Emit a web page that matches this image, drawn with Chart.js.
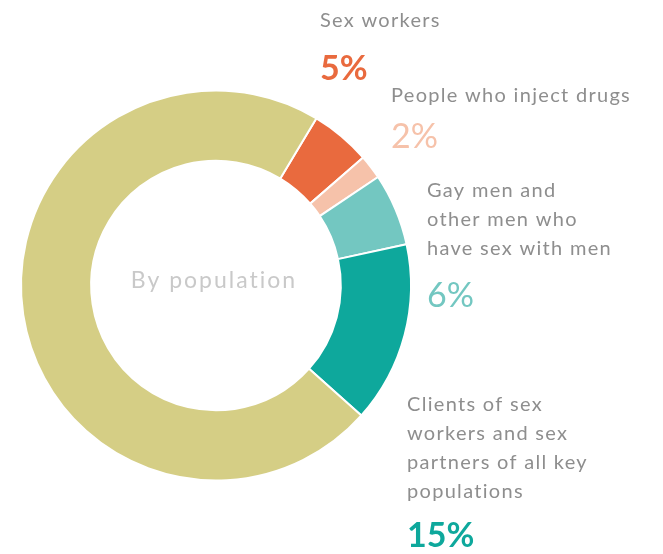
<!DOCTYPE html>
<html>
<head>
<meta charset="utf-8">
<script src="https://cdn.jsdelivr.net/npm/chart.js@4.4.0/dist/chart.umd.min.js"></script>
<style>
  html, body { margin: 0; padding: 0; background: #fff; }
  #wrap { position: relative; width: 663px; height: 554px; }
</style>
</head>
<body>
<div id="wrap"><canvas id="myChart" width="663" height="554"></canvas></div>
<script>
// Доли по группам населения (%)
const categories = [
  'Sex workers',
  'People who inject drugs',
  'Gay men and other men who have sex with men',
  'Clients of sex workers and sex partners of all key populations',
  'Rest of population'
];
const shares = [5, 2, 6, 15, 72];
const shareLabels = ['5%', '2%', '6%', '15%', ''];
const sliceColors = ['#e96a3e', '#f6c2aa', '#73c7c1', '#0ea89c', '#d5ce85'];

// Подписи справа от кольца: строки текста и позиция (левый край, базовая линия)
const labelLines = [
  ['Sex workers'],
  ['People who inject drugs'],
  ['Gay men and', 'other men who', 'have sex with men'],
  ['Clients of sex', 'workers and sex', 'partners of all key', 'populations']
];
const labelPos = [
  { x: 320, y: 27, pctY: 80, bold: true },
  { x: 391, y: 102, pctY: 148, bold: false },
  { x: 427, y: 197, pctY: 307, bold: false },
  { x: 407, y: 411, pctY: 547, bold: true }
];

const labelsPlugin = {
  id: 'sideLabels',
  afterDraw(chart) {
    const ctx = chart.ctx;
    const arc = chart.getDatasetMeta(0).data[0];
    ctx.save();
    // Текст в центре
    ctx.fillStyle = '#c9c9c9';
    ctx.font = '23px Lato';
    ctx.letterSpacing = '2px';
    ctx.textAlign = 'center';
    ctx.textBaseline = 'alphabetic';
    ctx.fillText('By population', arc.x - 2, 288);

    ctx.textAlign = 'left';
    labelLines.forEach((lines, i) => {
      const p = labelPos[i];
      ctx.fillStyle = '#8e8e8e';
      ctx.font = '20px Lato';
      ctx.letterSpacing = '1.3px';
      lines.forEach((line, j) => {
        ctx.fillText(line, p.x, p.y + j * 29);
      });
      ctx.fillStyle = sliceColors[i];
      ctx.font = (p.bold ? 'bold ' : '') + '34px Lato';
      ctx.letterSpacing = '0px';
      ctx.fillText(shareLabels[i], p.x, p.pctY);
    });
    ctx.restore();
  }
};

const canvas = document.getElementById('myChart');
const context = canvas.getContext('2d');

new Chart(context, {
  type: 'doughnut',
  data: {
    labels: categories,
    datasets: [{
      data: shares,
      backgroundColor: sliceColors,
      borderColor: '#ffffff',
      borderWidth: 2
    }]
  },
  options: {
    responsive: false,
    animation: false,
    rotation: 31,
    cutout: '64%',
    layout: {
      padding: { left: 20, right: 251, top: 89, bottom: 72 }
    },
    plugins: {
      legend: { display: false },
      tooltip: { enabled: false }
    }
  },
  plugins: [labelsPlugin]
});
</script>
</body>
</html>
